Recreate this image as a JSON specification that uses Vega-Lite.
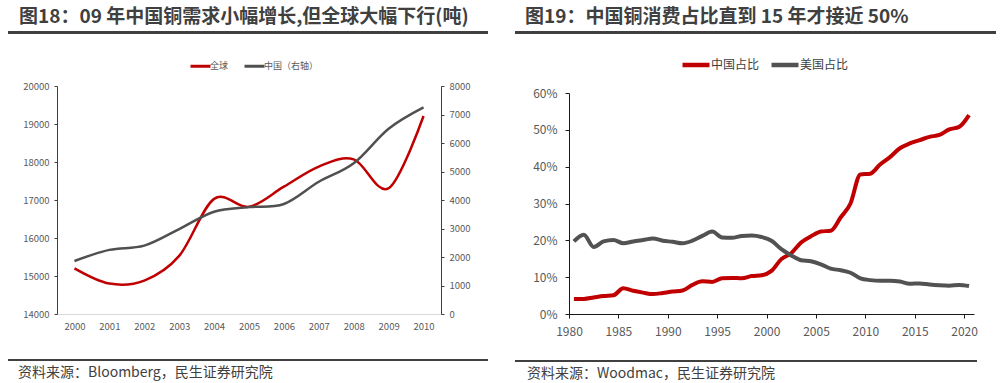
{
  "$schema": "https://vega.github.io/schema/vega-lite/v6.json",
  "background": "white",
  "padding": {"left": 8, "top": 8, "right": 4, "bottom": 2},
  "config": {
    "font": "Noto Sans CJK SC",
    "view": {"stroke": null},
    "axis": {"grid": false, "labelFont": "Noto Sans CJK SC", "labelColor": "#595959", "title": null, "labelOverlap": false, "labelFlush": false},
    "title": {"font": "Noto Sans CJK SC"},
    "legend": {"labelFont": "Noto Sans CJK SC"}
  },
  "datasets": {
    "copper": [
      {"year": 2000, "global": 15200, "china": 1860},
      {"year": 2001, "global": 14800, "china": 2250},
      {"year": 2002, "global": 14880, "china": 2400},
      {"year": 2003, "global": 15530, "china": 2980},
      {"year": 2004, "global": 17030, "china": 3590},
      {"year": 2005, "global": 16820, "china": 3750},
      {"year": 2006, "global": 17350, "china": 3860},
      {"year": 2007, "global": 17880, "china": 4640},
      {"year": 2008, "global": 18070, "china": 5290},
      {"year": 2009, "global": 17310, "china": 6500},
      {"year": 2010, "global": 19210, "china": 7250}
    ],
    "share": [
      {"date": "1980-07-01", "china": 0.041, "us": 0.197},
      {"date": "1981-07-01", "china": 0.041, "us": 0.215},
      {"date": "1982-07-01", "china": 0.045, "us": 0.182},
      {"date": "1983-07-01", "china": 0.049, "us": 0.197},
      {"date": "1984-07-01", "china": 0.051, "us": 0.201},
      {"date": "1985-07-01", "china": 0.070, "us": 0.192},
      {"date": "1986-07-01", "china": 0.063, "us": 0.197},
      {"date": "1987-07-01", "china": 0.058, "us": 0.201},
      {"date": "1988-07-01", "china": 0.054, "us": 0.205},
      {"date": "1989-07-01", "china": 0.057, "us": 0.199},
      {"date": "1990-07-01", "china": 0.061, "us": 0.196},
      {"date": "1991-07-01", "china": 0.064, "us": 0.192},
      {"date": "1992-07-01", "china": 0.079, "us": 0.199},
      {"date": "1993-07-01", "china": 0.089, "us": 0.212},
      {"date": "1994-07-01", "china": 0.087, "us": 0.224},
      {"date": "1995-07-01", "china": 0.097, "us": 0.208},
      {"date": "1996-07-01", "china": 0.098, "us": 0.207},
      {"date": "1997-07-01", "china": 0.097, "us": 0.212},
      {"date": "1998-07-01", "china": 0.103, "us": 0.213},
      {"date": "1999-07-01", "china": 0.105, "us": 0.209},
      {"date": "2000-07-01", "china": 0.117, "us": 0.199},
      {"date": "2001-07-01", "china": 0.149, "us": 0.176},
      {"date": "2002-07-01", "china": 0.165, "us": 0.159},
      {"date": "2003-07-01", "china": 0.194, "us": 0.146},
      {"date": "2004-07-01", "china": 0.211, "us": 0.143},
      {"date": "2005-07-01", "china": 0.224, "us": 0.135},
      {"date": "2006-07-01", "china": 0.226, "us": 0.123},
      {"date": "2007-07-01", "china": 0.262, "us": 0.119},
      {"date": "2008-07-01", "china": 0.300, "us": 0.112},
      {"date": "2009-07-01", "china": 0.379, "us": 0.097},
      {"date": "2010-07-01", "china": 0.381, "us": 0.092},
      {"date": "2011-07-01", "china": 0.406, "us": 0.090},
      {"date": "2012-07-01", "china": 0.426, "us": 0.090},
      {"date": "2013-07-01", "china": 0.450, "us": 0.088},
      {"date": "2014-07-01", "china": 0.463, "us": 0.082},
      {"date": "2015-07-01", "china": 0.472, "us": 0.083},
      {"date": "2016-07-01", "china": 0.481, "us": 0.080},
      {"date": "2017-07-01", "china": 0.486, "us": 0.078},
      {"date": "2018-07-01", "china": 0.501, "us": 0.077},
      {"date": "2019-07-01", "china": 0.508, "us": 0.079},
      {"date": "2020-07-01", "china": 0.540, "us": 0.076}
    ]
  },
  "spacing": 27,
  "resolve": {"scale": {"color": "independent"}, "legend": {"color": "independent"}},
  "hconcat": [
    {
      "spacing": 20,
      "resolve": {"scale": {"color": "independent"}, "legend": {"color": "independent"}},
      "vconcat": [
        {
          "width": 480, "height": 3,
          "view": {"fill": "#404040", "stroke": null},
          "title": {"text": "图18：09 年中国铜需求小幅增长,但全球大幅下行(吨)", "anchor": "start", "frame": "group", "dx": 11, "offset": -15, "baseline": "bottom", "fontSize": 19, "fontWeight": "bold", "color": "#404040"},
          "data": {"values": []},
          "mark": "point"
        },
        {
          "spacing": 13,
          "hconcat": [
            {"width": 1, "height": 1, "data": {"values": []}, "mark": "point"},
            {
              "width": 384, "height": 228,
              "data": {"name": "copper"},
              "encoding": {
                "x": {"field": "year", "type": "quantitative", "scale": {"domain": [1999.5, 2010.5], "nice": false, "zero": false},
                  "axis": {"values": [2000, 2001, 2002, 2003, 2004, 2005, 2006, 2007, 2008, 2009, 2010], "format": "d", "ticks": false, "tickSize": 0, "domainColor": "#d9d9d9", "labelFontSize": 9.5, "labelPadding": 7, "labelOverlap": false, "labelFlush": false, "minExtent": 25, "title": null}}
              },
              "layer": [
                {
                  "mark": {"type": "line", "interpolate": "cardinal", "strokeWidth": 2.5},
                  "encoding": {
                    "y": {"field": "global", "type": "quantitative", "scale": {"domain": [14000, 20000], "nice": false, "zero": false},
                      "axis": {"orient": "left", "values": [14000, 15000, 16000, 17000, 18000, 19000, 20000], "format": "d", "tickSize": 3, "tickColor": "#404040", "domainColor": "#404040", "labelFontSize": 9.5, "labelPadding": 5, "labelOverlap": false, "title": null}},
                    "color": {"datum": "全球", "scale": {"domain": ["全球", "中国（右轴）"], "range": ["#c00000", "#505050"]},
                      "legend": {"orient": "none", "legendX": 181, "legendY": -31.5, "direction": "horizontal", "title": null, "symbolType": "stroke", "symbolStrokeWidth": 3, "symbolSize": 400, "labelFontSize": 9, "labelColor": "#595959", "labelOffset": -2, "columnPadding": 9, "padding": 0}}
                  }
                },
                {
                  "mark": {"type": "line", "interpolate": "cardinal", "strokeWidth": 2.5},
                  "encoding": {
                    "y": {"field": "china", "type": "quantitative", "scale": {"domain": [0, 8000], "nice": false},
                      "axis": {"orient": "right", "values": [0, 1000, 2000, 3000, 4000, 5000, 6000, 7000, 8000], "format": "d", "tickSize": 3, "tickColor": "#404040", "domainColor": "#404040", "labelFontSize": 9.5, "labelPadding": 5, "labelOverlap": false, "title": null}},
                    "color": {"datum": "中国（右轴）"}
                  }
                }
              ],
              "resolve": {"scale": {"y": "independent"}}
            }
          ]
        },
        {
          "width": 480, "height": 2,
          "view": {"fill": "#404040", "stroke": null},
          "title": {"text": "资料来源：Bloomberg，民生证券研究院", "orient": "bottom", "anchor": "start", "frame": "group", "dx": 10, "offset": 5, "baseline": "top", "fontSize": 14, "fontWeight": "normal", "color": "#404040"},
          "data": {"values": []},
          "mark": "point"
        }
      ]
    },
    {
      "spacing": 15,
      "resolve": {"scale": {"color": "independent"}, "legend": {"color": "independent"}},
      "vconcat": [
        {
          "width": 481, "height": 3,
          "view": {"fill": "#404040", "stroke": null},
          "title": {"text": "图19：中国铜消费占比直到 15 年才接近 50%", "anchor": "start", "frame": "group", "dx": 10, "offset": -15, "baseline": "bottom", "fontSize": 19, "fontWeight": "bold", "color": "#404040"},
          "data": {"values": []},
          "mark": "point"
        },
        {
          "spacing": 16,
          "hconcat": [
            {"width": 1, "height": 1, "data": {"values": []}, "mark": "point"},
            {
              "width": 405, "height": 221,
              "data": {"name": "share"},
              "encoding": {
                "x": {"field": "date", "type": "temporal", "scale": {"type": "utc", "domain": [{"year": 1980, "utc": true}, {"year": 2021, "utc": true}], "nice": false},
                  "axis": {"values": [{"year": 1980, "utc": true}, {"year": 1985, "utc": true}, {"year": 1990, "utc": true}, {"year": 1995, "utc": true}, {"year": 2000, "utc": true}, {"year": 2005, "utc": true}, {"year": 2010, "utc": true}, {"year": 2015, "utc": true}, {"year": 2020, "utc": true}], "format": "%Y", "tickSize": 4, "tickColor": "#1a1a1a", "domainColor": "#1a1a1a", "labelFontSize": 12, "labelPadding": 8, "labelDx": 6, "labelOverlap": false, "labelFlush": false, "minExtent": 31, "title": null}},
                "y": {"type": "quantitative", "scale": {"domain": [0, 0.6], "nice": false},
                  "axis": {"values": [0, 0.1, 0.2, 0.3, 0.4, 0.5, 0.6], "format": ".0%", "tickSize": 4, "tickColor": "#1a1a1a", "domainColor": "#1a1a1a", "labelFontSize": 12, "labelPadding": 8, "labelOverlap": false, "title": null}}
              },
              "layer": [
                {
                  "mark": {"type": "line", "interpolate": "monotone", "strokeWidth": 4},
                  "encoding": {
                    "y": {"field": "china"},
                    "color": {"datum": "中国占比", "scale": {"domain": ["中国占比", "美国占比"], "range": ["#c00000", "#525252"]},
                      "legend": {"orient": "none", "legendX": 165, "legendY": -44, "direction": "horizontal", "title": null, "symbolType": "stroke", "symbolStrokeWidth": 4.5, "symbolSize": 729, "labelFontSize": 12, "labelColor": "#404040", "labelOffset": -1, "columnPadding": 2, "padding": 0}}
                  }
                },
                {
                  "mark": {"type": "line", "interpolate": "monotone", "strokeWidth": 4},
                  "encoding": {
                    "y": {"field": "us"},
                    "color": {"datum": "美国占比"}
                  }
                }
              ]
            }
          ]
        },
        {
          "width": 462, "height": 2,
          "view": {"fill": "#404040", "stroke": null},
          "title": {"text": "资料来源：Woodmac，民生证券研究院", "orient": "bottom", "anchor": "start", "frame": "group", "dx": 12, "offset": 5, "baseline": "top", "fontSize": 14, "fontWeight": "normal", "color": "#404040"},
          "data": {"values": []},
          "mark": "point"
        }
      ]
    }
  ]
}
